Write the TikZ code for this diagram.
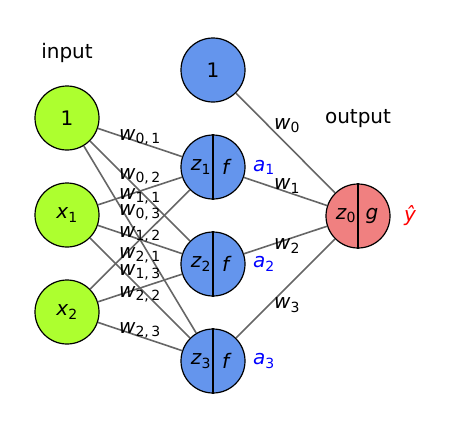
\documentclass[tikz,border=0pt]{standalone}
\usepackage{fontspec}
\setmainfont{DejaVu Sans}
\usetikzlibrary{positioning}
\definecolor{inputgreen}{HTML}{ADFF2F}
\definecolor{hiddenblue}{HTML}{6495ED}
\definecolor{outputred}{HTML}{F08080}
\newcommand{\wsym}[2]{\textit{#1}\textsubscript{#2}}

\begin{document}
\begin{tikzpicture}[
		x=1pt, y=-1pt,
		font=\fontsize{20}{24}\selectfont,
		node distance=97pt,
		neuron/.style={draw, circle, line width=1.2pt, minimum size=64pt, inner sep=0pt},
		inp/.style={neuron, fill=inputgreen},
		hid/.style={neuron, fill=hiddenblue},
		outp/.style={neuron, fill=outputred},
		edge/.style={draw=black!60, line width=1.6pt},
		split/.style={line width=1.6pt},
		wlabel/.style={anchor=west, inner sep=0pt}
		]
		\useasboundingbox (0,0) rectangle (452,429);
		
		% Nodes
		\node[inp] (in0) at (67,118) {1};
		\node[inp, below of=in0] (in1) {\wsym{x}{1}};
		\node[inp, below of=in1] (in2) {\wsym{x}{2}};
		\node[hid] (hb) at (213,70) {1};
		\node[hid, below of=hb] (h1) {};
		\node[hid, below of=h1] (h2) {};
		\node[hid, below of=h2] (h3) {};
		\node[outp] (out) at (358,216) {};
		\node (inlabel) at (67,53) {input};
		\node (outlabel) at (358,119) {output};
		
		% Split neurons
		\draw[split] (h1.north) -- (h1.south);
		\draw[split] (h2.north) -- (h2.south);
		\draw[split] (h3.north) -- (h3.south);
		\draw[split] (out.north) -- (out.south);
		\node (z1) at ([xshift=-12pt]h1.center) {\wsym{z}{1}};
		\node (f1) at ([xshift=14pt]h1.center) {\textit{f}};
		\node (z2) at ([xshift=-12pt]h2.center) {\wsym{z}{2}};
		\node (f2) at ([xshift=14pt]h2.center) {\textit{f}};
		\node (z3) at ([xshift=-12pt]h3.center) {\wsym{z}{3}};
		\node (f3) at ([xshift=14pt]h3.center) {\textit{f}};
		\node (z0) at ([xshift=-12pt]out.center) {\wsym{z}{0}};
		\node (g0) at ([xshift=14pt]out.center) {\textit{g}};
		\node[text=blue, right=4pt of h1] (a1) {\wsym{a}{1}};
		\node[text=blue, right=4pt of h2] (a2) {\wsym{a}{2}};
		\node[text=blue, right=4pt of h3] (a3) {\wsym{a}{3}};
		\node[text=red, right=10pt of out] (yhat) {\textit{ŷ}};
		
		% Edges
		\draw[edge] (in0) -- (h1);
		\draw[edge] (in0) -- (h2);
		\draw[edge] (in0) -- (h3);
		\draw[edge] (in1) -- (h1);
		\draw[edge] (in1) -- (h2);
		\draw[edge] (in1) -- (h3);
		\draw[edge] (in2) -- (h1);
		\draw[edge] (in2) -- (h2);
		\draw[edge] (in2) -- (h3);
		\draw[edge] (hb) -- (out);
		\draw[edge] (h1) -- (out);
		\draw[edge] (h2) -- (out);
		\draw[edge] (h3) -- (out);
		
		% Weights
		\node[wlabel] (w01) at (119,137) {\wsym{w}{0,\,1}};
		\node[wlabel] (w02) at (119,176) {\wsym{w}{0,\,2}};
		\node[wlabel] (w11) at (119,196) {\wsym{w}{1,\,1}};
		\node[wlabel] (w03) at (119,212) {\wsym{w}{0,\,3}};
		\node[wlabel] (w12) at (119,234) {\wsym{w}{1,\,2}};
		\node[wlabel] (w21) at (119,255) {\wsym{w}{2,\,1}};
		\node[wlabel] (w13) at (119,272) {\wsym{w}{1,\,3}};
		\node[wlabel] (w22) at (119,294) {\wsym{w}{2,\,2}};
		\node[wlabel] (w23) at (119,330) {\wsym{w}{2,\,3}};
		\node[wlabel] (w0) at (274,126) {\wsym{w}{0}};
		\node[wlabel] (w1) at (274,186) {\wsym{w}{1}};
		\node[wlabel] (w2) at (274,246) {\wsym{w}{2}};
		\node[wlabel] (w3) at (274,305) {\wsym{w}{3}};
		
	\end{tikzpicture}
\end{document}
